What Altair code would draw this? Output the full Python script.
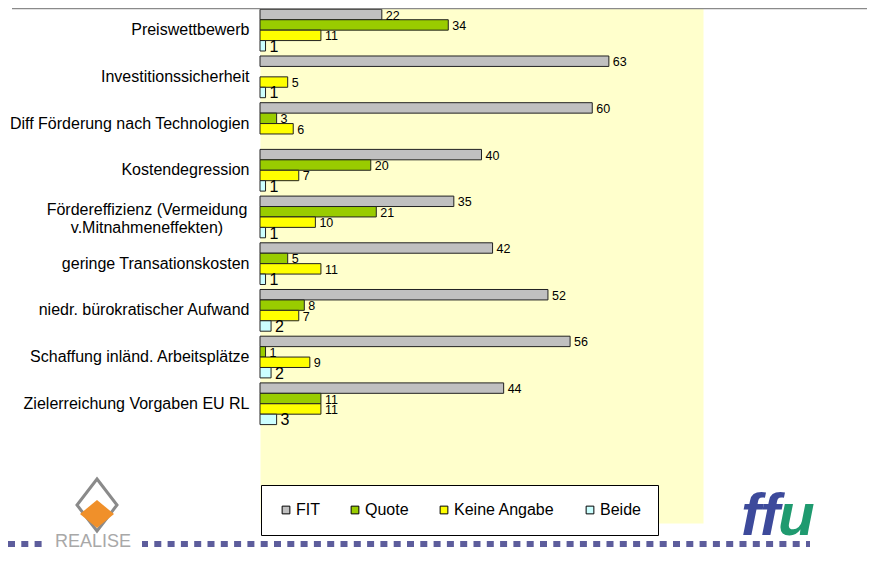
import altair as alt
import pandas as pd

categories = [
    "Preiswettbewerb",
    "Investitionssicherheit",
    "Diff Förderung nach Technologien",
    "Kostendegression",
    "Fördereffizienz (Vermeidung\nv.Mitnahmeneffekten)",
    "geringe Transationskosten",
    "niedr. bürokratischer Aufwand",
    "Schaffung inländ. Arbeitsplätze",
    "Zielerreichung Vorgaben EU RL",
]
series = ["FIT", "Quote", "Keine Angabe", "Beide"]
fit = [22, 63, 60, 40, 35, 42, 52, 56, 44]
quote = [34, None, 3, 20, 21, 5, 8, 1, 11]
keine_angabe = [11, 5, 6, 7, 10, 11, 7, 9, 11]
beide = [1, 1, None, 1, 1, 1, 2, 2, 3]
colors = ["#C0C0C0", "#99CC00", "#FFFF00", "#CCFFFF"]

rows = []
for s, vals in zip(series, [fit, quote, keine_angabe, beide]):
    for c, v in zip(categories, vals):
        if v is not None:
            rows.append({"Kategorie": c, "Serie": s, "Wert": v})
df = pd.DataFrame(rows)
multi = pd.DataFrame({"Kategorie": [c for c in categories if "\n" in c]})

FONT = "Liberation Sans"

x = alt.X("Wert:Q", scale=alt.Scale(domain=[0, 80]), axis=None)
y = alt.Y(
    "Kategorie:N",
    sort=categories,
    scale=alt.Scale(range=[1.3, 416.6], paddingInner=0.107, paddingOuter=0),
    axis=alt.Axis(
        title=None, ticks=False, tickSize=0, domain=False, labelPadding=11,
        labelFontSize=16, labelColor="#000", labelLimit=0, labelFont=FONT,
        labelExpr="indexof(datum.label, '\\n') >= 0 ? '' : datum.label",
    ),
)
yoff = alt.YOffset("Serie:N", sort=series,
                   scale=alt.Scale(domain=series, paddingInner=0, paddingOuter=0))

bars = alt.Chart(df).mark_bar(stroke="#222", strokeWidth=1).encode(
    x=x, y=y, yOffset=yoff,
    color=alt.Color(
        "Serie:N", sort=series,
        scale=alt.Scale(domain=series, range=colors),
        legend=alt.Legend(
            title=None, orient="none", legendX=1, legendY=477,
            direction="horizontal", fillColor="white", strokeColor="#000",
            padding=17, columnPadding=27, symbolType="square", symbolSize=60,
            symbolStrokeColor="#000", symbolStrokeWidth=1, labelFontSize=16,
            labelOffset=2, labelColor="#000", labelFont=FONT,
        ),
    ),
)

labels = alt.Chart(df).mark_text(
    align="left", baseline="middle", dx=4, dy=1, font=FONT, color="#000"
).encode(
    x=x, y=y, yOffset=yoff, text="Wert:Q",
    size=alt.condition(alt.datum.Serie == "Beide", alt.value(16), alt.value(12.5)),
)

multi_label = alt.Chart(multi).mark_text(
    align="center", baseline="middle", lineBreak="\n", lineHeight=18,
    fontSize=16, font=FONT, color="#000", dy=-7
).encode(x=alt.value(-113), y=y, text="Kategorie:N")

dec = pd.DataFrame({"d": [0]})
top_line = alt.Chart(dec).mark_rule(color="#8a8a8a", strokeWidth=1.5).encode(
    x=alt.value(-248), x2=alt.value(615), y=alt.value(0.5))
bottom_line = alt.Chart(dec).mark_rule(color="#5D5D9C", strokeWidth=6, strokeDash=[7, 6.3]).encode(
    x=alt.value(-252), x2=alt.value(550), y=alt.value(536))
white_box = alt.Chart(dec).mark_rect(color="white").encode(
    x=alt.value(-216), x2=alt.value(-118), y=alt.value(527), y2=alt.value(542))
realise = alt.Chart(dec).mark_text(
    text="REALISE", fontSize=18, color="#A8A8A8", font=FONT, align="center", baseline="middle"
).encode(x=alt.value(-167), y=alt.value(534))
logo_outer = alt.Chart(dec).mark_point(
    shape="M0,-1.3L1,0L0,1.3L-1,0Z", size=1600, filled=False, stroke="#8a8a8a",
    strokeWidth=3, opacity=1
).encode(x=alt.value(-163), y=alt.value(497))
logo_inner = alt.Chart(dec).mark_point(
    shape="M0,-0.82L1,0L0,0.82L-1,0Z", size=1156, filled=True, color="#F0902A", opacity=1
).encode(x=alt.value(-163), y=alt.value(506))
ff = alt.Chart(dec).mark_text(
    text="ff", fontSize=60, fontWeight="bold", fontStyle="italic", color="#3D4A9B",
    align="right", baseline="alphabetic", font=FONT
).encode(x=alt.value(520), y=alt.value(527))
u = alt.Chart(dec).mark_text(
    text="u", fontSize=60, fontWeight="bold", fontStyle="italic", color="#1F9A6F",
    align="left", baseline="alphabetic", font=FONT
).encode(x=alt.value(518), y=alt.value(527))

chart = alt.layer(
    bars, labels, multi_label, top_line, bottom_line, white_box, realise,
    logo_outer, logo_inner, ff, u
).properties(
    width=443, height=515,
    padding={"left": 252, "top": 0, "right": 164, "bottom": 28},
    autosize=alt.AutoSizeParams(type="none"),
).configure(font=FONT, background="white").configure_view(
    fill="#FFFFCC", stroke="transparent"
)

chart.save("out.html", embed_options={"renderer": "svg", "actions": False})
